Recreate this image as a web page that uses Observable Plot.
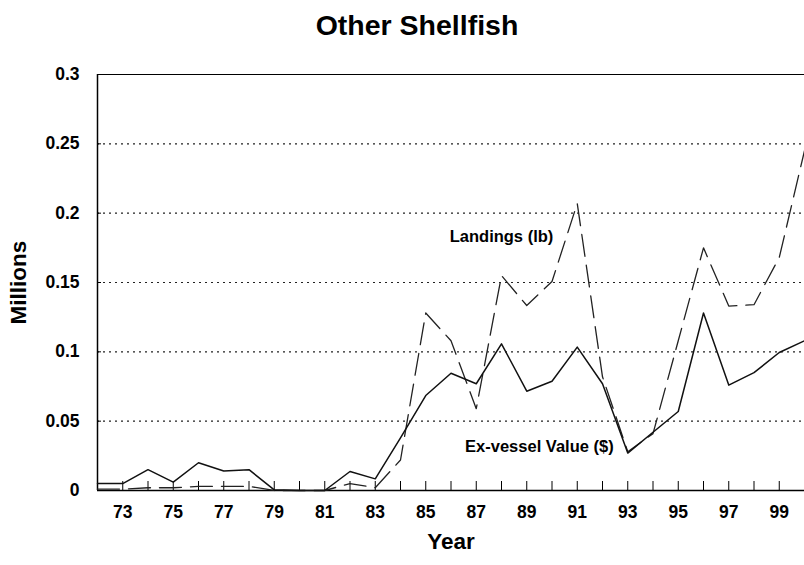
<!DOCTYPE html>
<html>
<head>
<meta charset="utf-8">
<script src="https://cdn.jsdelivr.net/npm/d3@7"></script>
<script src="https://cdn.jsdelivr.net/npm/@observablehq/plot@0.6"></script>
<style>
  html, body { margin: 0; padding: 0; background: #fff; }
  #title {
    width: 804px; height: 44px; line-height: 50px; overflow: visible;
    font-family: "Liberation Sans", Arial, sans-serif;
    font-weight: bold; font-size: 28.5px; color: #000;
    text-align: center; box-sizing: border-box; padding-left: 30px;
  }
</style>
</head>
<body>
<div id="title">Other Shellfish</div>
<div id="chart"></div>
<script>
// Years (19xx, 100 = 2000)
const years = [72,73,74,75,76,77,78,79,80,81,82,83,84,85,86,87,88,89,90,91,92,93,94,95,96,97,98,99,100];
// Ex-vessel Value ($), millions
const exVesselValue = [0.005,0.005,0.015,0.006,0.020,0.014,0.015,0.0005,0,0,0.0137,0.0084,0.038,0.0685,0.0846,0.077,0.1058,0.0716,0.0788,0.1034,0.077,0.027,0.042,0.057,0.128,0.076,0.085,0.0995,0.108];
// Landings (lb), millions
const landings = [0.001,0.001,0.002,0.002,0.003,0.003,0.003,0,0,0,0.005,0.002,0.022,0.128,0.108,0.059,0.155,0.1334,0.1507,0.207,0.082,0.028,0.041,0.108,0.175,0.133,0.134,0.168,0.245];
// Tick labels
const xTickLabels = ["73","75","77","79","81","83","85","87","89","91","93","95","97","99"];
const yTicks = [0,0.05,0.1,0.15,0.2,0.25,0.3];
const yTickLabels = ["0","0.05","0.1","0.15","0.2","0.25","0.3"];
const gridValues = [0.05,0.1,0.15,0.2,0.25];
// Series labels placed in the plot
const annotText = ["Landings (lb)","Ex-vessel Value ($)"];
const annotYear = [88.0, 89.5];
const annotVal = [0.183, 0.0317];

const valueData = years.map((y, i) => ({year: y, v: exVesselValue[i]}));
const landData = years.map((y, i) => ({year: y, v: landings[i]}));
const annots = annotText.map((t, i) => ({t, x: annotYear[i], y: annotVal[i]}));
const xLabelOf = d => {
  const k = xTickLabels.indexOf(String(d));
  return k >= 0 ? xTickLabels[k] : "";
};
const yLabelOf = d => yTickLabels[yTicks.findIndex(t => Math.abs(t - d) < 1e-9)] ?? "";

const chart = Plot.plot({
  width: 804,
  height: 521,
  marginTop: 30,
  marginBottom: 75,
  marginLeft: 97,
  marginRight: 0,
  style: "font-family: 'Liberation Sans', Arial, sans-serif; font-weight: bold; background: #fff; color: #000; overflow: hidden;",
  x: {domain: [72, 100]},
  y: {domain: [0, 0.3]},
  marks: [
    Plot.ruleY(gridValues, {stroke: "#222", strokeWidth: 1.2, strokeDasharray: "2,4"}),
    Plot.frame({stroke: "#000", strokeWidth: 1}),
    Plot.ruleX([72], {stroke: "#000", strokeWidth: 1.5}),
    Plot.ruleY([0], {stroke: "#000", strokeWidth: 1.5}),
    Plot.axisX({ticks: years, tickSize: -9, tickPadding: 24, tickFormat: xLabelOf, fontSize: 17.5, fontWeight: "bold", label: null}),
    Plot.axisY({ticks: yTicks, tickSize: -4, tickPadding: 22, tickFormat: yLabelOf, fontSize: 17.5, fontWeight: "bold", label: null}),
    Plot.lineY(landData, {x: "year", y: "v", stroke: "#222", strokeWidth: 1.3, strokeDasharray: "22,9"}),
    Plot.lineY(valueData, {x: "year", y: "v", stroke: "#111", strokeWidth: 1.5}),
    Plot.text(annots, {x: "x", y: "y", text: "t", fontSize: 16.5, fontWeight: "bold", fill: "#000"}),
    Plot.text(["Millions"], {frameAnchor: "left", textAnchor: "middle", rotate: -90, dx: -79, fontSize: 22.5, fontWeight: "bold", fill: "#000"}),
    Plot.text(["Year"], {frameAnchor: "bottom", lineAnchor: "bottom", dy: 58, fontSize: 22.5, fontWeight: "bold", fill: "#000"})
  ]
});
document.getElementById("chart").appendChild(chart);
</script>
</body>
</html>
